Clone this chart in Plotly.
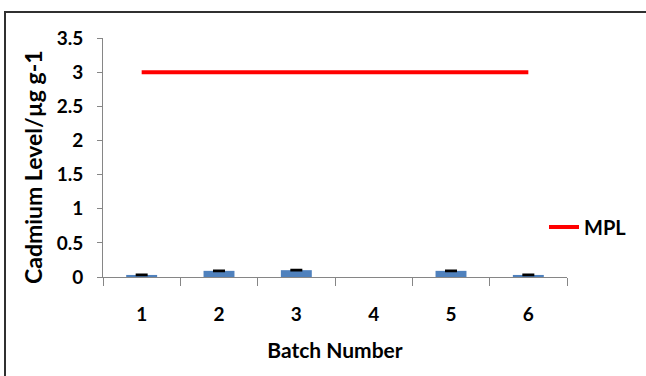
import plotly.graph_objects as go

batches = ["1", "2", "3", "4", "5", "6"]
cadmium = [0.03, 0.09, 0.10, None, 0.09, 0.03]
cadmium_err = [0.005, 0.005, 0.005, None, 0.005, 0.005]
mpl = [3, 3, 3, 3, 3, 3]

FONT = "Lato"
fig = go.Figure()
fig.add_trace(go.Bar(
    x=batches, y=cadmium, marker=dict(color="#4F81BD", line=dict(width=0)),
    error_y=dict(type="data", array=cadmium_err, color="black", thickness=2, width=6),
    showlegend=False, name="Cadmium",
))
fig.add_trace(go.Scatter(
    x=batches, y=mpl, mode="lines", name="MPL",
    line=dict(color="#FF0000", width=4),
))

L, R, T, B = 103, 79, 38, 99
W, H = 646, 376
pw, ph = W - L - R, H - T - B
def px(x): return (x - L) / pw
def py(y): return (H - B - y) / ph

fig.update_layout(
    width=W, height=H,
    margin=dict(l=L, r=R, t=T, b=B),
    paper_bgcolor="white", plot_bgcolor="white",
    bargap=0.6,
    font=dict(family=FONT, size=19, color="black"),
    showlegend=True,
    legend=dict(x=px(544), y=py(227), xanchor="left", yanchor="middle",
                font=dict(family=FONT, size=20, color="black", weight="bold"),
                bgcolor="rgba(0,0,0,0)", itemwidth=30),
    xaxis=dict(
        showgrid=False, showline=True, linecolor="#868686", linewidth=1,
        ticks="outside", ticklen=8, tickcolor="#868686", tickson="boundaries",
        ticklabelstandoff=20,
        tickfont=dict(family=FONT, size=19, weight="bold"),
        title=dict(text="Batch Number", font=dict(family=FONT, size=21, weight="bold"), standoff=19),
    ),
    yaxis=dict(
        range=[0, 3.5], dtick=0.5, showgrid=False, zeroline=False,
        showline=True, linecolor="#868686", linewidth=1,
        ticks="outside", ticklen=5, tickcolor="#868686",
        ticklabelstandoff=10,
        tickfont=dict(family=FONT, size=19, weight="bold"),
    ),
    annotations=[dict(text="<b>Cadmium Level/µg g-1</b>", textangle=-90,
                      xref="paper", yref="paper", x=px(33), y=py(167),
                      xanchor="center", yanchor="middle", showarrow=False,
                      font=dict(family=FONT, size=23, color="black"))],
    shapes=[dict(type="rect", xref="paper", yref="paper",
                 x0=px(5), x1=px(660), y0=py(12), y1=py(400),
                 line=dict(color="#303030", width=2), fillcolor="rgba(0,0,0,0)", layer="above")],
)
fig.write_html("out.html", config={"displayModeBar": False},
               post_script="document.body.style.margin='0';")
